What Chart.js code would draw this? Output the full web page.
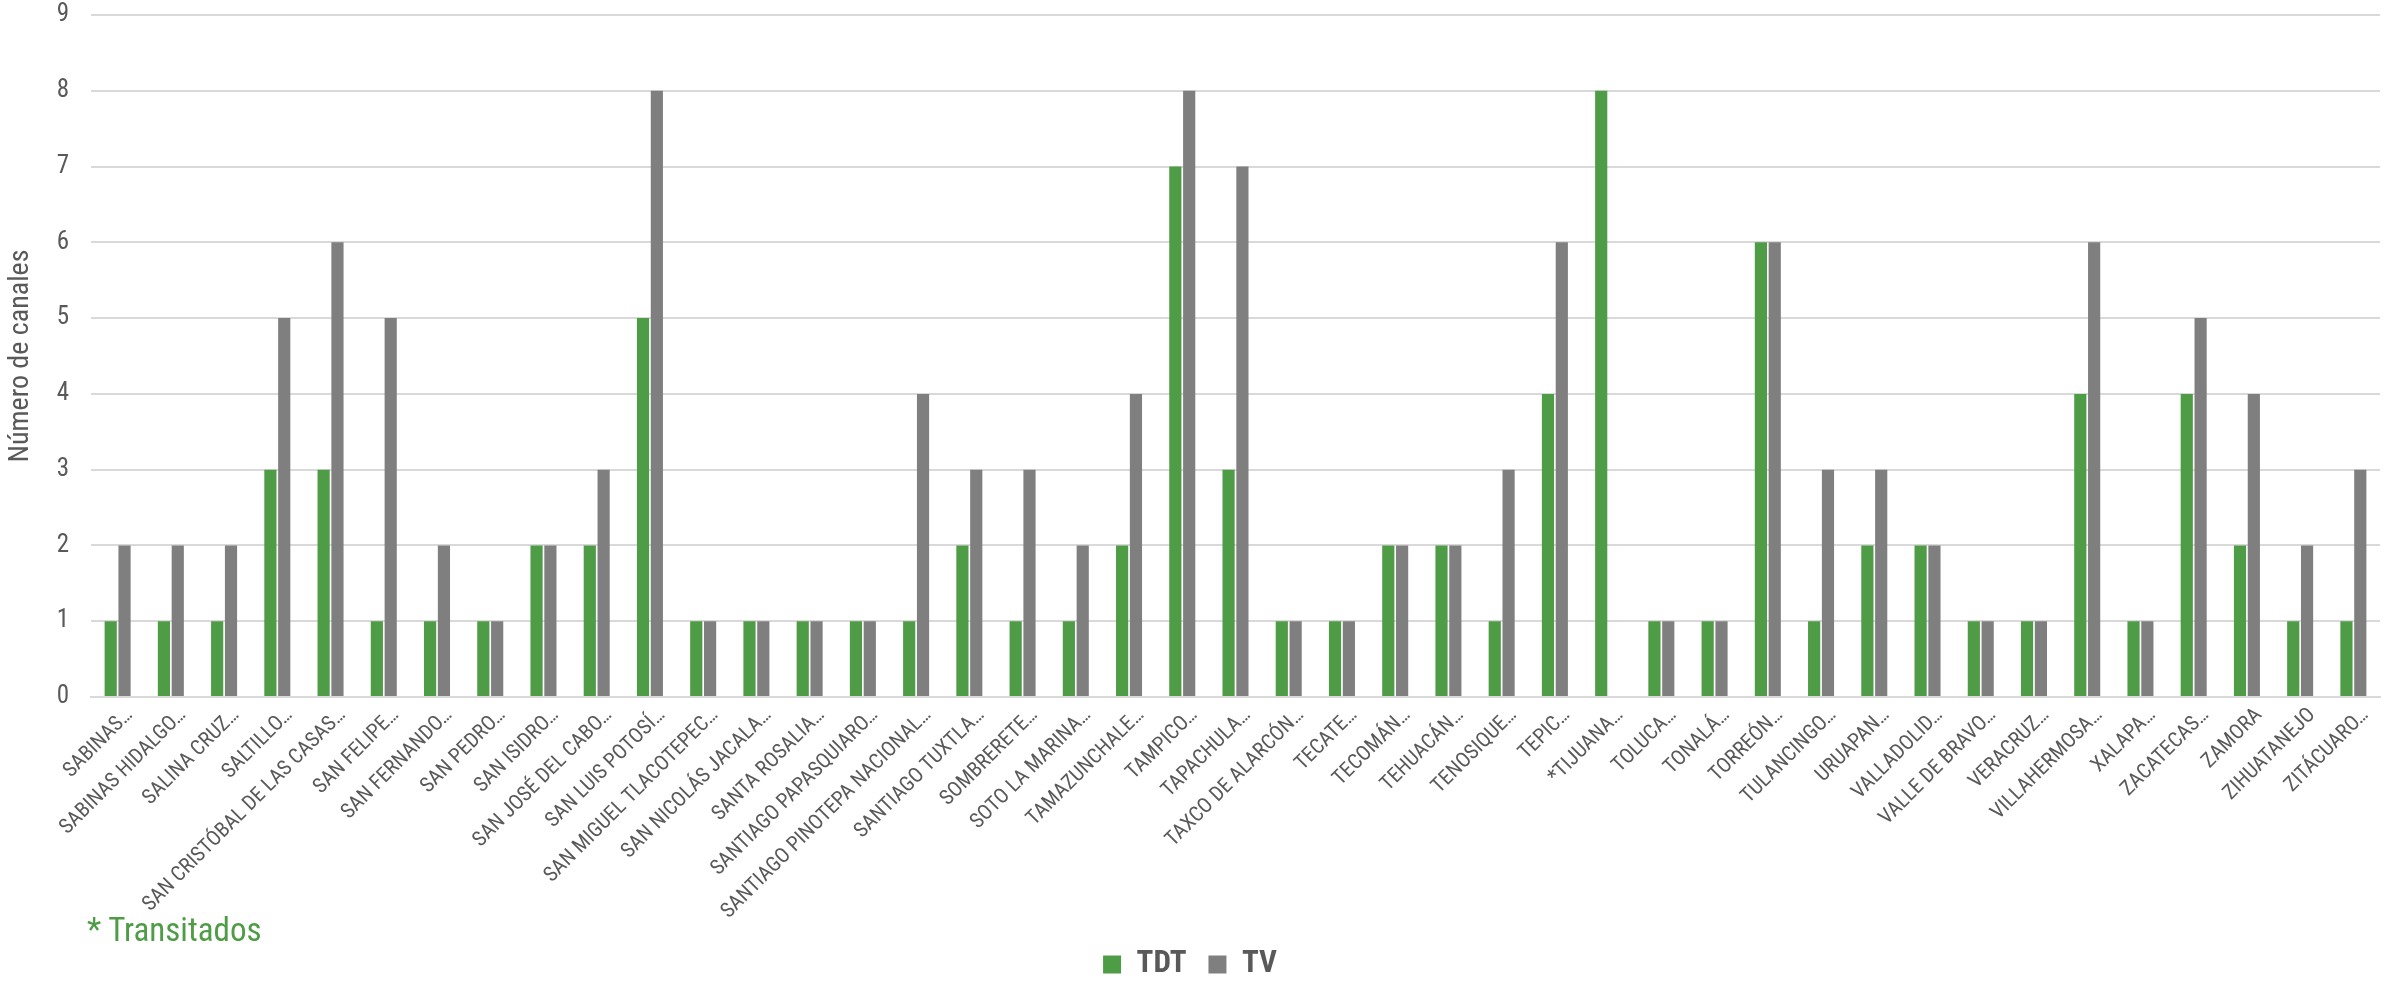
<!DOCTYPE html>
<html>
<head>
<meta charset="utf-8">
<script src="https://cdn.jsdelivr.net/npm/chart.js@4.4.0/dist/chart.umd.min.js"></script>
<style>
    html, body { margin: 0; padding: 0; background: #fff; }
    #wrap { position: relative; width: 2392px; height: 981px; }
    #nota {
        position: absolute; left: 87px; top: 910px;
        font-family: 'Roboto Condensed', 'Liberation Sans Narrow', 'DejaVu Sans Condensed', 'Roboto', sans-serif;
        font-size: 33px; color: #4E9C45;
    }
</style>
</head>
<body>
<div id="wrap">
    <canvas id="grafica" width="2392" height="981"></canvas>
    <div id="nota">* Transitados</div>
</div>
<script>
const localidades = [
    'SABINAS…', 'SABINAS HIDALGO…', 'SALINA CRUZ…', 'SALTILLO…', 'SAN CRISTÓBAL DE LAS CASAS…',
    'SAN FELIPE…', 'SAN FERNANDO…', 'SAN PEDRO…', 'SAN ISIDRO…', 'SAN JOSÉ DEL CABO…',
    'SAN LUIS POTOSÍ…', 'SAN MIGUEL TLACOTEPEC…', 'SAN NICOLÁS JACALA…', 'SANTA ROSALIA…',
    'SANTIAGO PAPASQUIARO…', 'SANTIAGO PINOTEPA NACIONAL…', 'SANTIAGO TUXTLA…', 'SOMBRERETE…',
    'SOTO LA MARINA…', 'TAMAZUNCHALE…', 'TAMPICO…', 'TAPACHULA…', 'TAXCO DE ALARCÓN…',
    'TECATE…', 'TECOMÁN…', 'TEHUACÁN…', 'TENOSIQUE…', 'TEPIC…', '*TIJUANA…', 'TOLUCA…',
    'TONALÁ…', 'TORREÓN…', 'TULANCINGO…', 'URUAPAN…', 'VALLADOLID…', 'VALLE DE BRAVO…',
    'VERACRUZ…', 'VILLAHERMOSA…', 'XALAPA…', 'ZACATECAS…', 'ZAMORA', 'ZIHUATANEJO', 'ZITÁCUARO…'
];
const tdt = [1, 1, 1, 3, 3, 1, 1, 1, 2, 2, 5, 1, 1, 1, 1, 1, 2, 1, 1, 2, 7, 3, 1, 1, 2, 2, 1, 4, 8, 1, 1, 6, 1, 2, 2, 1, 1, 4, 1, 4, 2, 1, 1];
const tv  = [2, 2, 2, 5, 6, 5, 2, 1, 2, 3, 8, 1, 1, 1, 1, 4, 3, 3, 2, 4, 8, 7, 1, 1, 2, 2, 3, 6, 0, 1, 1, 6, 3, 3, 2, 1, 1, 6, 1, 5, 4, 2, 3];

const fuente = "'Roboto Condensed', 'Liberation Sans Narrow', 'DejaVu Sans Condensed', 'Roboto', sans-serif";
const gris = '#595959';

document.addEventListener('DOMContentLoaded', function () {
    const ctx = document.getElementById('grafica').getContext('2d');
    new Chart(ctx, {
        type: 'bar',
        data: {
            labels: localidades,
            datasets: [
                { label: 'TDT', data: tdt, backgroundColor: '#4E9C45' },
                { label: 'TV', data: tv, backgroundColor: '#7F7F7F' }
            ]
        },
        options: {
            responsive: false,
            animation: false,
            datasets: {
                bar: { categoryPercentage: 0.52, barPercentage: 0.88 }
            },
            // el fondo negativo baja un poco la leyenda
            layout: { padding: { top: 15, left: 0, right: 12, bottom: -9 } },
            plugins: {
                tooltip: { enabled: false },
                legend: {
                    position: 'bottom',
                    labels: {
                        boxWidth: 18, boxHeight: 18, padding: 22,
                        color: gris,
                        font: { family: fuente, size: 31, weight: 'bold' }
                    }
                }
            },
            scales: {
                x: {
                    grid: { display: false, drawTicks: false },
                    border: { color: '#D9D9D9', width: 2 },
                    ticks: {
                        color: gris, minRotation: 45, maxRotation: 45, autoSkip: false,
                        padding: 6, labelOffset: 12,
                        font: { family: fuente, size: 21 }
                    },
                    afterFit: function (s) {
                        s.height = 230;
                        s.paddingLeft = 0;
                        s.paddingRight = 0;
                    }
                },
                y: {
                    min: 0, max: 9,
                    title: {
                        display: true, text: 'Número de canales', color: gris,
                        font: { family: fuente, size: 28 }, padding: { bottom: 6 }
                    },
                    grid: { color: '#D9D9D9', lineWidth: 2, drawTicks: false },
                    border: { display: false },
                    ticks: {
                        stepSize: 1, color: gris, padding: 22,
                        font: { family: fuente, size: 25 }
                    },
                    afterFit: function (s) {
                        s.width = 91;
                        s.paddingTop = 0;
                        s.paddingBottom = 0;
                    }
                }
            }
        }
    });
});
</script>
</body>
</html>
